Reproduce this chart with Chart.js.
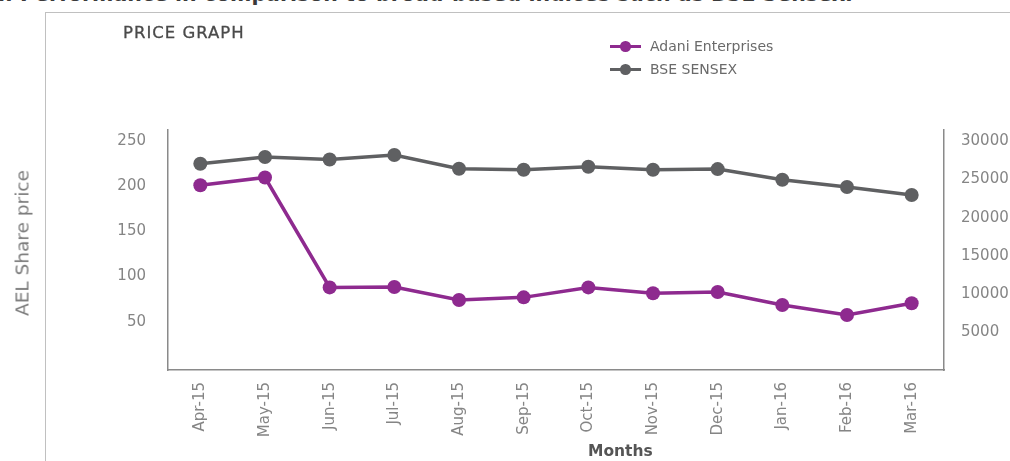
<!DOCTYPE html>
<html>
<head>
<meta charset="utf-8">
<script src="https://cdn.jsdelivr.net/npm/chart.js@4"></script>
<style>
  html, body { margin: 0; padding: 0; background: #fff; }
  body { width: 1010px; height: 461px; position: relative; overflow: hidden; font-family: 'DejaVu Sans', sans-serif; }
  #chart { position: absolute; left: 0; top: 0; }
  .intro { position: absolute; left: -2px; top: -18px; font-size: 20.5px; color: #3a3a3a; white-space: nowrap; font-weight: bold; }
  .frame-top { position: absolute; left: 45px; top: 12px; width: 965px; height: 0; border-top: 1.5px solid #c0c0c0; }
  .frame-left { position: absolute; left: 45px; top: 12px; width: 0; height: 460px; border-left: 1.5px solid #c0c0c0; }
  .heading { position: absolute; left: 123px; top: 23px; font-size: 16.5px; color: #4a4a4a; letter-spacing: 1px; -webkit-text-stroke: 0.3px #4a4a4a; }
  .legend { position: absolute; left: 610px; top: 37px; font-size: 14px; color: #6a6a6a; }
  .legend div { height: 23px; line-height: 18px; position: relative; padding-left: 40px; }
  .legend .mark { position: absolute; left: 0; top: 7.5px; width: 31px; height: 3.5px; }
  .legend .mark::after { content: ''; position: absolute; left: 10px; top: -3.5px; width: 10.5px; height: 10.5px; border-radius: 50%; background: inherit; }
  .ytitle { position: absolute; left: 22px; top: 243px; transform: translate(-50%, -50%) rotate(-90deg); font-size: 18.5px; color: #7a7a7a; white-space: nowrap; }
  .xtitle { position: absolute; left: 588px; top: 442px; font-size: 15.5px; font-weight: bold; color: #555; }
</style>
</head>
<body>
<div class="intro">i. Performance in comparison to broad-based indices such as BSE Sensex.</div>
<div class="frame-top"></div>
<div class="frame-left"></div>
<canvas id="chart" width="1010" height="461"></canvas>
<div class="heading">PRICE GRAPH</div>
<div class="legend">
  <div><span class="mark" style="background:#8e2a8f"></span>Adani Enterprises</div>
  <div><span class="mark" style="background:#5f6062"></span>BSE SENSEX</div>
</div>
<div class="ytitle">AEL Share price</div>
<div class="xtitle">Months</div>
<script>
// monthly values
const months = ['Apr-15', 'May-15', 'Jun-15', 'Jul-15', 'Aug-15', 'Sep-15', 'Oct-15', 'Nov-15', 'Dec-15', 'Jan-16', 'Feb-16', 'Mar-16'];
const adaniPrice = [201, 209.5, 88, 88.5, 74, 77, 88, 81.5, 83, 68.5, 57.5, 70.5];
const sensexValue = [27070, 27950, 27630, 28210, 26410, 26280, 26680, 26280, 26370, 24970, 24010, 22960];
const priceTicks = [50, 100, 150, 200, 250];
const sensexTicks = [5000, 10000, 15000, 20000, 25000, 30000];

const tickFont = { family: 'DejaVu Sans', size: 15 };
const tickColor = '#858585';
const axisBorder = { display: true, color: '#8a8a8a', width: 1.5 };

function fixedTicks(values) {
    return function (axis) {
        axis.ticks = values.map(v => ({ value: v }));
    };
}

const ctx = document.getElementById('chart').getContext('2d');
const chart = new Chart(ctx, {
    type: 'line',
    data: {
        labels: months,
        datasets: [{
            label: 'Adani Enterprises',
            data: adaniPrice,
            yAxisID: 'yPrice',
            borderColor: '#8e2a8f',
            backgroundColor: '#8e2a8f',
            borderWidth: 3.5,
            pointRadius: 7,
            pointBorderWidth: 0,
            tension: 0
        }, {
            label: 'BSE SENSEX',
            data: sensexValue,
            yAxisID: 'ySensex',
            borderColor: '#5f6062',
            backgroundColor: '#5f6062',
            borderWidth: 3.5,
            pointRadius: 7,
            pointBorderWidth: 0,
            tension: 0
        }]
    },
    options: {
        responsive: false,
        animation: false,
        layout: { padding: { top: 130 } },
        scales: {
            x: {
                offset: true,
                grid: { display: false },
                border: axisBorder,
                ticks: { font: tickFont, color: tickColor, minRotation: 90, maxRotation: 90, padding: 4 },
                afterFit: function (s) { s.height = 91; }
            },
            yPrice: {
                position: 'left',
                min: -3.3,
                max: 262,
                grid: { display: false },
                border: axisBorder,
                afterBuildTicks: fixedTicks(priceTicks),
                ticks: { font: tickFont, color: tickColor, padding: 14 },
                afterFit: function (s) { s.width = 168; }
            },
            ySensex: {
                position: 'right',
                min: 0,
                max: 31500,
                grid: { display: false },
                border: axisBorder,
                afterBuildTicks: fixedTicks(sensexTicks),
                ticks: { font: tickFont, color: tickColor, padding: 9, callback: v => String(v) },
                afterFit: function (s) { s.width = 66; }
            }
        },
        plugins: {
            legend: { display: false },
            tooltip: { enabled: false }
        }
    }
});
</script>
</body>
</html>
